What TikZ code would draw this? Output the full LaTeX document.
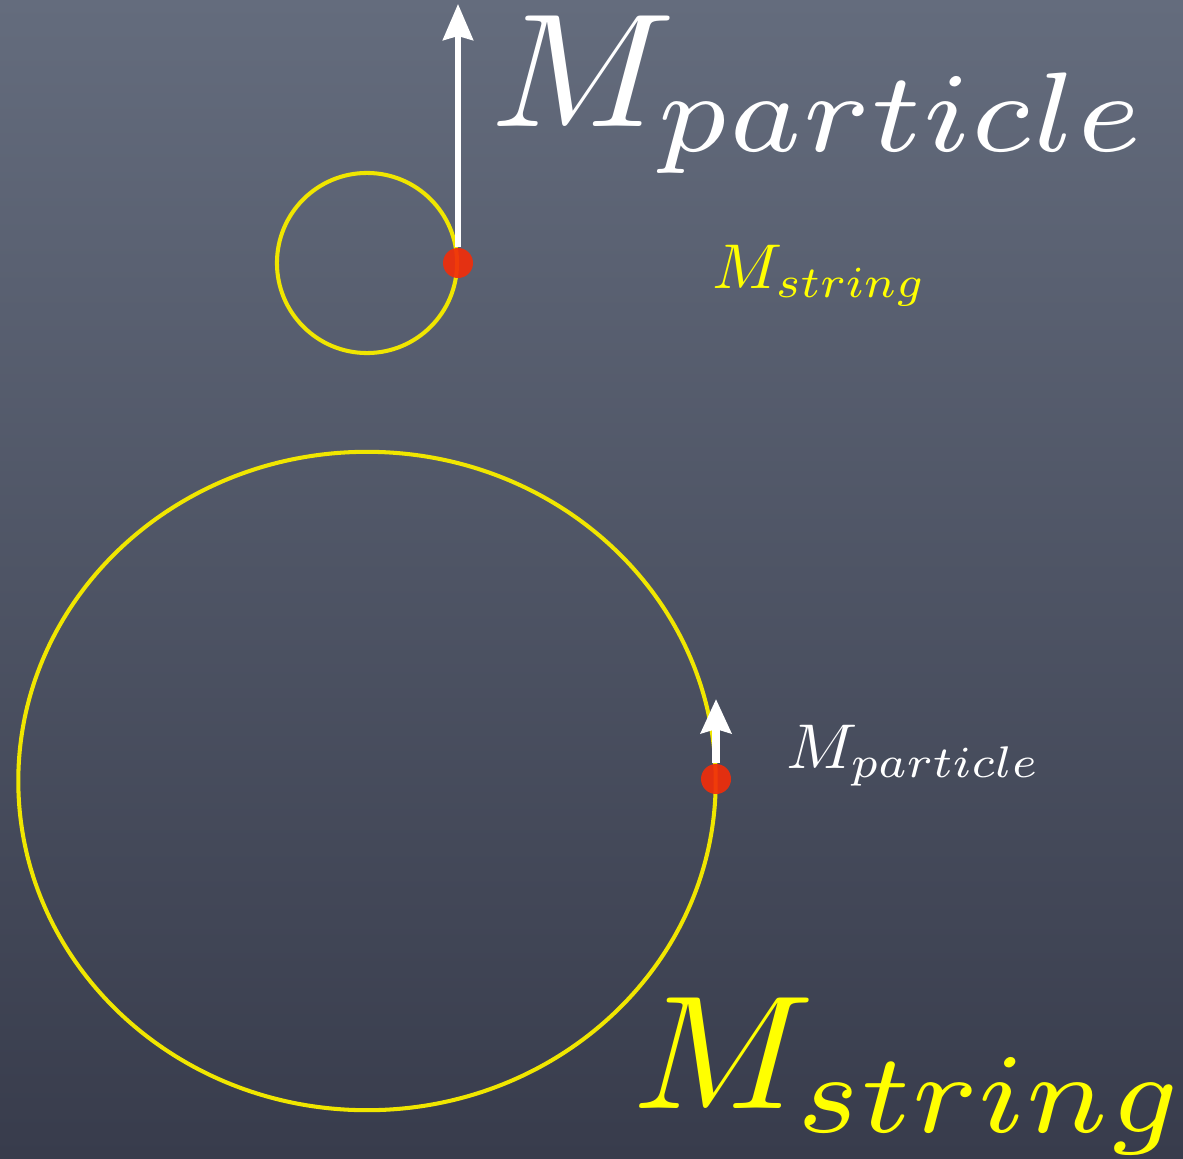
\documentclass[tikz,border=0pt]{standalone}
\definecolor{boardtop}{RGB}{100, 108, 125}
\definecolor{boardmid}{RGB}{84, 91, 108}
\definecolor{boardbot}{RGB}{56, 60, 76}
\definecolor{orbityellow}{RGB}{240, 230, 0}
\definecolor{labelyellow}{RGB}{255, 255, 0}
\definecolor{massred}{RGB}{240, 45, 10}
\usetikzlibrary{arrows.meta, positioning, calc}
\tikzset{
    orbit/.style={draw=orbityellow, line width=1.15pt},
    mass/.style={circle, fill=massred, fill opacity=0.92, inner sep=0pt, minimum size=0.3cm},
    bigarrow/.style={-{Stealth[length=0.36cm, width=0.3cm, inset=0.04cm]}, draw=white, line width=0.06cm},
    smallarrow/.style={-{Stealth[length=0.34cm, width=0.3cm, inset=0.04cm]}, draw=white, line width=0.075cm},
    biglabel/.style={inner sep=0pt, anchor=base west, font=\normalsize},
    smalllabel/.style={inner sep=0pt, anchor=base west, font=\normalsize},
}

\begin{document}
\begin{tikzpicture}[x=0.01cm, y=-0.01cm]
                    % Board
                    \shade[top color=boardtop, middle color=boardmid, bottom color=boardbot] (0,0) rectangle (1183,1158);
                    \useasboundingbox (0,0) rectangle (1183,1158);
                    
                    % Small orbit
                    \draw[orbit] (367,263) circle [radius=0.9cm];
                    \node[mass] (dottop) at (458,263) {};
                    \coordinate (tiptop) at (458,4);
                    \draw[bigarrow] (dottop.north) -- (tiptop);
                    
                    % Large orbit
                    \draw[orbit] (367,781) ellipse [x radius=3.485cm, y radius=3.29cm];
                    \node[mass] (dotbottom) at (716,779) {};
                    \coordinate (tipbottom) at (716,699);
                    \draw[smallarrow] (dotbottom.north) -- (tipbottom);
                    
                    % Labels
                    \node[biglabel, text=white] (mpbig) at (490,127) {\scalebox{4.89}[4.6]{$M_{particle}$}};
                    \node[smalllabel, text=labelyellow] (mssmall) at (712,288) {\scalebox{1.85}[1.8]{$M_{string}$}};
                    \node[smalllabel, text=white] (mpsmall) at (786,768) {\scalebox{1.88}[1.8]{$M_{particle}$}};
                    \node[biglabel, text=labelyellow] (msbig) at (632,1108) {\scalebox{4.81}[4.6]{$M_{string}$}};
                \end{tikzpicture}
\end{document}
